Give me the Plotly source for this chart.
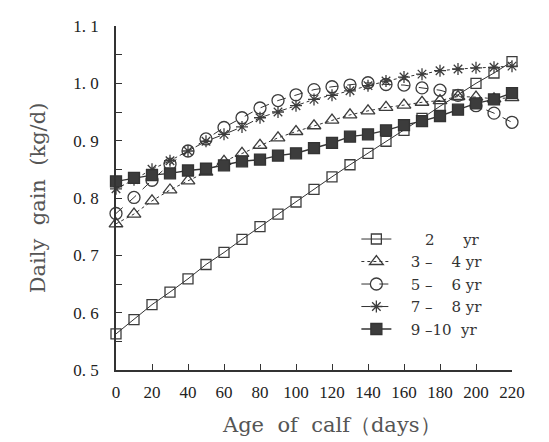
import plotly.graph_objects as go

days = [0, 10, 20, 30, 40, 50, 60, 70, 80, 90, 100, 110, 120, 130, 140, 150, 160, 170, 180, 190, 200, 210, 220]

gain_2yr = [0.563, 0.588, 0.614, 0.636, 0.659, 0.684, 0.705, 0.728, 0.750, 0.772, 0.793, 0.815, 0.837, 0.858, 0.878,
            0.899, 0.918, 0.939, 0.960, 0.980, 1.000, 1.018, 1.038]
gain_3_4yr = [0.755, 0.772, 0.795, 0.814, 0.830, 0.845, 0.864, 0.878, 0.892, 0.905, 0.916, 0.926, 0.936, 0.945, 0.952,
              0.958, 0.962, 0.967, 0.970, 0.977, 0.976, 0.973, 0.975]
gain_5_6yr = [0.773, 0.801, 0.831, 0.859, 0.882, 0.903, 0.923, 0.940, 0.957, 0.970, 0.980, 0.989, 0.994, 0.997, 1.001,
              0.998, 0.997, 0.992, 0.988, 0.979, 0.961, 0.948, 0.932]
gain_7_8yr = [0.816, 0.832, 0.850, 0.865, 0.882, 0.899, 0.911, 0.924, 0.940, 0.950, 0.961, 0.972, 0.979, 0.987, 0.996,
              1.004, 1.011, 1.016, 1.022, 1.025, 1.027, 1.028, 1.030]
gain_9_10yr = [0.829, 0.835, 0.840, 0.843, 0.848, 0.851, 0.857, 0.864, 0.867, 0.874, 0.878, 0.887, 0.896, 0.907, 0.911,
               0.918, 0.927, 0.934, 0.943, 0.954, 0.965, 0.972, 0.983]

NB = "\u00a0"
labels = [NB * 6 + "2" + NB * 6 + "yr",
          NB * 3 + "3 \u2013 " + NB * 3 + "4 yr",
          NB * 3 + "5 \u2013 " + NB * 3 + "6 yr",
          NB * 3 + "7 \u2013 " + NB * 3 + "8 yr",
          NB * 3 + "9 \u201310" + NB + " yr"]
y_ticks = [0.5, 0.6, 0.7, 0.8, 0.9, 1.0, 1.1]
y_ticktext = ["0. 5", "0. 6", "0. 7", "0. 8", "0. 9", "1. 0", "1. 1"]
x_ticks = [0, 20, 40, 60, 80, 100, 120, 140, 160, 180, 200, 220]
x_title = "Age" + NB + " of" + NB + " calf\uff08days\uff09"
y_title = "Daily" + NB + " gain" + NB + " (kg/d)"

ink = "#333333"
series = [
    (gain_2yr, labels[0], "square-open", "solid", 10, 1.0),
    (gain_3_4yr, labels[1], "triangle-up-open", "dot", 12, 1.0),
    (gain_5_6yr, labels[2], "circle-open", "dash", 12, 1.0),
    (gain_7_8yr, labels[3], "asterisk-open", "dashdot", 10, 1.0),
    (gain_9_10yr, labels[4], "square", "solid", 11, 1.4),
]

fig = go.Figure()
for vals, name, sym, dash, size, lw in series:
    fig.add_trace(go.Scatter(
        x=days, y=vals, name=name, mode="lines+markers",
        line=dict(color=ink, width=lw, dash=dash),
        marker=dict(symbol=sym, size=size, color="#3c3c3c",
                    line=dict(color=ink, width=1.3)),
        cliponaxis=False,
    ))

tick_family = "Liberation Serif, Times New Roman, serif"
title_family = "DejaVu Serif, serif"
fig.update_layout(
    width=541, height=434,
    margin=dict(l=108, r=37, t=9, b=72),
    paper_bgcolor="white", plot_bgcolor="white",
    font=dict(family=tick_family, color="#222222", size=17),
    showlegend=True,
    legend=dict(x=0.607, y=0.428, xanchor="left", yanchor="top",
                bgcolor="rgba(0,0,0,0)", font=dict(family=title_family, size=15, color="#333333"),
                tracegroupgap=0, itemwidth=30),
    xaxis=dict(range=[0, 220], tickvals=x_ticks, ticks="inside", ticklen=6, tickcolor=ink,
               showline=True, linecolor=ink, linewidth=1.5, showgrid=False, zeroline=False,
               tickfont=dict(size=17, color="#222222"), ticklabelstandoff=6, ticklabeloverflow="allow"),
    yaxis=dict(range=[0.5, 1.1], tickvals=y_ticks, ticktext=y_ticktext, ticks="inside", ticklen=6,
               tickcolor=ink, showline=True, linecolor=ink, linewidth=1.5, showgrid=False, zeroline=False,
               minor=dict(dtick=0.05, ticks="inside", ticklen=6, tickcolor=ink),
               tickfont=dict(size=17, color="#222222"), ticklabelstandoff=12, ticklabeloverflow="allow",
               title=dict(text=y_title, font=dict(family=title_family, size=21, color="#555555"),
                          standoff=22)),
    annotations=[dict(text=x_title, xref="paper", yref="paper", x=0.545, y=-0.161,
                      xanchor="center", yanchor="middle", showarrow=False,
                      font=dict(family=title_family, size=21, color="#555555"))],
)

fig.write_html("out.html")
